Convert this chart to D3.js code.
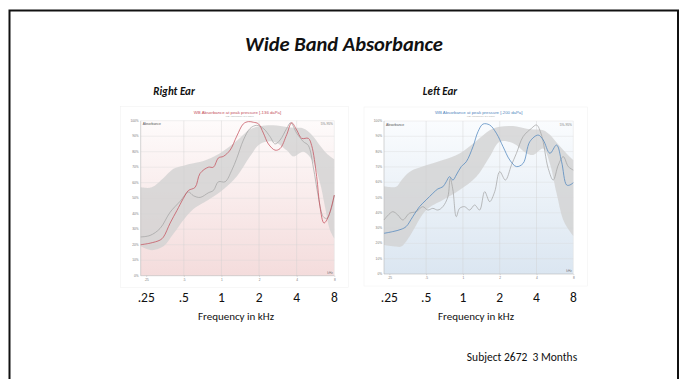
<!DOCTYPE html>
<html>
<head>
<meta charset="utf-8">
<script src="https://cdn.jsdelivr.net/npm/d3@7"></script>
<style>
  body { margin: 0; background: #fff; }
  svg { display: block; }
</style>
</head>
<body>
<svg id="chart" width="685" height="379"></svg>
<script>
// ---- Axis values ----
const frequencyTicks = [250, 500, 1000, 2000, 4000, 8000];
const frequencyTickLabels = [".25", ".5", "1", "2", "4", "8"];
const percentTicks = [0, 10, 20, 30, 40, 50, 60, 70, 80, 90, 100];

// ---- Right ear: normative 5%-95% band ----
const rightBandFreqs = [226, 277, 344, 413, 497, 597, 718, 976, 1326, 1695, 2037, 2604, 3329, 3762, 4522, 5272, 6145, 6738, 7386, 8000];
const rightBandUpper = [57, 57, 63, 69, 71, 72.5, 74, 79, 87, 94.5, 96.5, 97, 96, 95.5, 95, 91, 84, 80, 77, 75];
const rightBandLower = [19, 16.5, 19, 27, 36, 43, 47, 54, 64, 77, 85, 86.5, 81, 77, 80, 75, 60, 44.5, 29.5, 24];

// ---- Right ear: absorbance at peak pressure ----
const rightPeakFreqs = [226, 269, 323, 344, 389, 440, 497, 545, 616, 675, 787, 863, 946, 1037, 1173, 1326, 1499, 1644, 1802, 1976, 2166, 2375, 2686, 2945, 3329, 3648, 4000, 4386, 4958, 5272, 5780, 6145, 6615, 7165, 8000];
const rightPeakValues = [20, 21, 23, 25, 34, 42, 50, 55, 57, 66, 70, 70, 76, 77, 81, 90, 98, 99.4, 99, 98, 92, 85, 81, 82, 91, 98.7, 94, 88.6, 88.6, 84, 64, 44.5, 34, 38, 52];

// ---- Right ear: absorbance at ambient pressure ----
const rightAmbientFreqs = [226, 269, 323, 389, 467, 545, 597, 675, 787, 863, 946, 1070, 1210, 1326, 1499, 1695, 1916, 2166, 2449, 2686, 2945, 3329, 3582, 4000, 4522, 4958, 5436, 5960, 6534, 6947, 7480, 8000];
const rightAmbientValues = [25, 26, 30.5, 41, 48, 54, 51.6, 50.5, 53.5, 55, 60.6, 60.6, 68, 75.7, 87.5, 95, 97, 95, 89.7, 85, 87.5, 95, 98.7, 92, 86.5, 84, 70, 51, 38, 37, 42, 52];

// ---- Left ear: normative 5%-95% band ----
const leftBandFreqs = [226, 284, 312, 365, 500, 685, 939, 1287, 1655, 2000, 2574, 3311, 3756, 4537, 5148, 5837, 6622, 7512, 8000];
const leftBandUpper = [57.3, 57, 61, 66.7, 71, 74.5, 78.8, 87, 94, 96.3, 96.7, 95, 94.5, 94, 91, 86, 81, 76.5, 74.5];
const leftBandLower = [19, 17.9, 17.9, 24.4, 41.8, 48.4, 54.9, 63.6, 76.7, 86.5, 85.4, 78.9, 77.8, 82, 72, 52.7, 35.3, 27.7, 24.8];

// ---- Left ear: absorbance at peak pressure ----
const leftPeakFreqs = [226, 266, 312, 343, 389, 441, 500, 567, 623, 685, 730, 777, 828, 882, 969, 1065, 1208, 1328, 1459, 1655, 1878, 2130, 2417, 2741, 3108, 3526, 4128, 4537, 5148, 5837, 6415, 7052, 7512, 8000];
const leftPeakValues = [26.6, 27.7, 29.2, 31, 37.5, 44, 48.4, 52.7, 55.6, 57, 60.3, 63.6, 61.4, 64.7, 70.2, 73.4, 83.2, 93, 98, 97.4, 92, 83.2, 74.5, 70.2, 72.3, 86.5, 90.8, 87.6, 78.9, 84.3, 73.4, 58.2, 58.2, 59.7];

// ---- Left ear: absorbance at ambient pressure ----
const leftAmbientFreqs = [226, 266, 293, 322, 365, 414, 469, 516, 567, 623, 685, 753, 787, 828, 882, 939, 1032, 1134, 1247, 1370, 1506, 1655, 1820, 2000, 2226, 2494, 2741, 3108, 3640, 4000, 4395, 4987, 5482, 6025, 6622, 7279, 8000];
const leftAmbientValues = [35.3, 40.7, 38.6, 35.3, 39.7, 40.7, 44, 41.8, 42.9, 41.8, 44, 50.5, 62.5, 54.9, 37.5, 42.9, 44, 41.8, 45.1, 41.8, 53.8, 47.3, 53.8, 66.9, 61.4, 71.2, 78.9, 89.8, 95.2, 97.4, 90.8, 69, 61.4, 71.2, 76.7, 70.2, 67.9];

const svg = d3.select("#chart");
const BODY_FONT = "Carlito, Calibri, Lato, 'Open Sans', sans-serif";
const SMALL_FONT = "Arial, 'Liberation Sans', sans-serif";

svg.append("rect").attr("width", 685).attr("height", 379).attr("fill", "#fff");

// Slide frame
svg.append("rect")
  .attr("x", 9.5).attr("y", 10.5).attr("width", 668.5).attr("height", 400)
  .attr("fill", "none").attr("stroke", "#111").attr("stroke-width", 2);

svg.append("text")
  .attr("x", 344).attr("y", 51)
  .attr("text-anchor", "middle")
  .attr("font-family", BODY_FONT)
  .attr("font-weight", "bold").attr("font-style", "italic")
  .attr("font-size", 20.5)
  .attr("fill", "#111")
  .text("Wide Band Absorbance");

const defs = svg.append("defs");

function drawPanel(cfg) {
  const x = d3.scaleLog().domain([226, 8000]).range([cfg.left, cfg.right]);
  const y = d3.scaleLinear().domain([0, 100]).range([cfg.bottom, cfg.top]);
  const g = svg.append("g");

  // ear heading
  g.append("text")
    .attr("x", cfg.headX).attr("y", 95)
    .attr("text-anchor", "middle")
    .attr("font-family", BODY_FONT)
    .attr("font-weight", "bold").attr("font-style", "italic")
    .attr("font-size", 11)
    .attr("fill", "#111")
    .text(cfg.heading);

  // screenshot panel backdrop
  g.append("rect")
    .attr("x", cfg.left - 20).attr("y", cfg.top - 14)
    .attr("width", cfg.right - cfg.left + 34).attr("height", cfg.bottom - cfg.top + 26)
    .attr("fill", "#fff").attr("stroke", "#f0f0f0").attr("stroke-width", 0.5);

  // plot background gradient
  const grad = defs.append("linearGradient")
    .attr("id", cfg.id + "-bg").attr("x1", 0).attr("x2", 0).attr("y1", 0).attr("y2", 1);
  grad.append("stop").attr("offset", "0%").attr("stop-color", cfg.bgTop);
  grad.append("stop").attr("offset", "100%").attr("stop-color", cfg.bgBottom);
  g.append("rect")
    .attr("x", cfg.left).attr("y", cfg.top)
    .attr("width", cfg.right - cfg.left).attr("height", cfg.bottom - cfg.top)
    .attr("fill", `url(#${cfg.id}-bg)`);

  // normative band
  const band = cfg.bandFreqs.map((f, i) => ({ f, lo: cfg.bandLower[i], hi: cfg.bandUpper[i] }));
  g.append("path")
    .datum(band)
    .attr("fill", "#d2d2d2").attr("fill-opacity", 0.8)
    .attr("d", d3.area()
      .x(d => x(d.f)).y0(d => y(d.lo)).y1(d => y(d.hi))
      .curve(d3.curveCatmullRom.alpha(0.5)));

  // grid
  g.append("g").selectAll("line").data(percentTicks.slice(1)).join("line")
    .attr("x1", cfg.left).attr("x2", cfg.right)
    .attr("y1", d => y(d)).attr("y2", d => y(d))
    .attr("stroke", "#d8d8d8").attr("stroke-opacity", 0.7).attr("stroke-width", 0.5);
  g.append("g").selectAll("line").data(frequencyTicks.slice(1, 5)).join("line")
    .attr("x1", d => x(d)).attr("x2", d => x(d))
    .attr("y1", cfg.top).attr("y2", cfg.bottom)
    .attr("stroke", "#d0d0d0").attr("stroke-opacity", 0.8).attr("stroke-width", 0.5);

  // axes frame
  g.append("line").attr("x1", cfg.left).attr("x2", cfg.left).attr("y1", cfg.top).attr("y2", cfg.bottom)
    .attr("stroke", "#b8b8b8").attr("stroke-width", 0.6);
  g.append("line").attr("x1", cfg.left).attr("x2", cfg.right).attr("y1", cfg.bottom).attr("y2", cfg.bottom)
    .attr("stroke", "#b8b8b8").attr("stroke-width", 0.6);
  g.append("line").attr("x1", cfg.right).attr("x2", cfg.right).attr("y1", cfg.top).attr("y2", cfg.bottom)
    .attr("stroke", "#e2e2e2").attr("stroke-width", 0.5);

  // small y tick labels
  g.append("g").selectAll("text").data(percentTicks).join("text")
    .attr("x", cfg.left - 2).attr("y", d => y(d) + 1)
    .attr("text-anchor", "end")
    .attr("font-family", SMALL_FONT)
    .attr("font-size", 3.2).attr("fill", "#777")
    .text(d => d + "%");

  // small x tick labels via axis
  const axis = d3.axisBottom(x).tickValues(frequencyTicks)
    .tickFormat((d, i) => frequencyTickLabels[i]).tickSize(1.2).tickPadding(1.5);
  const ax = g.append("g").attr("transform", `translate(0,${cfg.bottom})`).call(axis);
  ax.select(".domain").remove();
  ax.selectAll("line").attr("stroke", "#aaa").attr("stroke-width", 0.4);
  ax.selectAll("text").attr("font-size", 3.2).attr("fill", "#777")
    .attr("font-family", SMALL_FONT);

  // corner captions
  g.append("text").attr("x", cfg.left + 2).attr("y", cfg.top + 4.5)
    .attr("font-family", SMALL_FONT).attr("font-size", 3.4).attr("fill", "#555")
    .text("Absorbance");
  g.append("text").attr("x", cfg.right - 1.5).attr("y", cfg.top + 4.5).attr("text-anchor", "end")
    .attr("font-family", SMALL_FONT).attr("font-size", 3.2).attr("fill", "#777")
    .text("5%-95%");
  g.append("text").attr("x", cfg.right - 1.5).attr("y", cfg.bottom - 2).attr("text-anchor", "end")
    .attr("font-family", SMALL_FONT).attr("font-size", 3.2).attr("fill", "#777")
    .text("kHz");

  // panel title
  const cx = (cfg.left + cfg.right) / 2;
  g.append("text").attr("x", cx).attr("y", cfg.top - 7)
    .attr("text-anchor", "middle")
    .attr("font-family", SMALL_FONT).attr("font-size", 4.3)
    .attr("fill", cfg.color)
    .text(cfg.title);
  g.append("text").attr("x", cx - 12).attr("y", cfg.top - 3.6)
    .attr("font-family", SMALL_FONT).attr("font-size", 2.4)
    .attr("fill", "#aaa")
    .text("WB Absorbance at 0 daPa");

  const line = d3.line().x(d => x(d.f)).y(d => y(d.v)).curve(d3.curveCatmullRom.alpha(0.5));

  // ambient-pressure trace (gray)
  g.append("path")
    .datum(cfg.ambientFreqs.map((f, i) => ({ f, v: cfg.ambientValues[i] })))
    .attr("fill", "none").attr("stroke", "#a0a0a0").attr("stroke-width", 0.7)
    .attr("d", line);

  // peak-pressure trace (coloured)
  g.append("path")
    .datum(cfg.peakFreqs.map((f, i) => ({ f, v: cfg.peakValues[i] })))
    .attr("fill", "none").attr("stroke", cfg.color).attr("stroke-width", 0.75)
    .attr("d", line);

  // large frequency labels
  g.append("g").selectAll("text").data(frequencyTicks).join("text")
    .attr("x", d => x(d)).attr("y", 302)
    .attr("text-anchor", "middle")
    .attr("font-family", BODY_FONT).attr("font-size", 13.5).attr("fill", "#111")
    .text((d, i) => frequencyTickLabels[i]);

  g.append("text")
    .attr("x", cfg.axisTitleX).attr("y", 320)
    .attr("text-anchor", "middle")
    .attr("font-family", BODY_FONT).attr("font-size", 11).attr("fill", "#111")
    .text("Frequency in kHz");
}

drawPanel({
  id: "right", heading: "Right Ear", headX: 174,
  left: 140.7, right: 334.3, top: 120.7, bottom: 275.7,
  bgTop: "#fefbfb", bgBottom: "#f4dcdc", color: "#c4505c",
  title: "WB Absorbance at peak pressure [-136 daPa]",
  bandFreqs: rightBandFreqs, bandUpper: rightBandUpper, bandLower: rightBandLower,
  peakFreqs: rightPeakFreqs, peakValues: rightPeakValues,
  ambientFreqs: rightAmbientFreqs, ambientValues: rightAmbientValues,
  axisTitleX: 236
});

drawPanel({
  id: "left", heading: "Left Ear", headX: 440,
  left: 384, right: 573.3, top: 121, bottom: 274,
  bgTop: "#fafcfe", bgBottom: "#dbe6f1", color: "#4f86bd",
  title: "WB Absorbance at peak pressure [-200 daPa]",
  bandFreqs: leftBandFreqs, bandUpper: leftBandUpper, bandLower: leftBandLower,
  peakFreqs: leftPeakFreqs, peakValues: leftPeakValues,
  ambientFreqs: leftAmbientFreqs, ambientValues: leftAmbientValues,
  axisTitleX: 476
});

svg.append("text")
  .attr("x", 522).attr("y", 361)
  .attr("text-anchor", "middle")
  .style("white-space", "pre")
  .attr("font-family", BODY_FONT).attr("font-size", 11.5).attr("fill", "#111")
  .text("Subject 2672  3 Months");
</script>
</body>
</html>
